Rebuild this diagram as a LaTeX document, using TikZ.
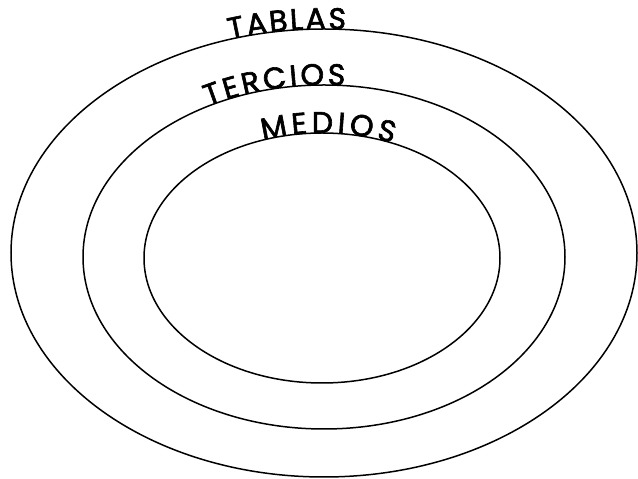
\documentclass[tikz,border=0pt]{standalone}
\usepackage{fontspec}
\usepackage{tikz}
\usetikzlibrary{decorations.text}
\newfontfamily\poppins{Poppins}[FakeBold=2]
\newcommand{\ringfont}{\fontsize{30}{34}\selectfont\poppins}

\begin{document}
\begin{tikzpicture}[x=1pt, y=1pt,
    ring/.style={line width=1.5pt},
    ringlabel/.style={decorate, decoration={text along path, text align=fit to path, text={|\ringfont|#1}}}]

    \useasboundingbox (0,0) rectangle (638,479);

    \coordinate (tablas) at (324,226);
    \coordinate (tercios) at (324,222);
    \coordinate (medios) at (322,221);

    \draw[ring] (tablas) ellipse[x radius=313, y radius=224];
    \draw[ring] (tercios) ellipse[x radius=241, y radius=172];
    \draw[ring] (medios) ellipse[x radius=178, y radius=125];

    \path[ringlabel=TABLAS] (tablas) ++(107.5:313 and 224)
        arc[start angle=107.5, end angle=86, x radius=313, y radius=224];
    \path[ringlabel=TERCIOS] (tercios) ++(118.8:241 and 172)
        arc[start angle=118.8, end angle=85, x radius=241, y radius=172];
    \path[ringlabel=MEDIOS] (medios) ++(109.4:178 and 125)
        arc[start angle=109.4, end angle=66.5, x radius=178, y radius=125];
\end{tikzpicture}
\end{document}
